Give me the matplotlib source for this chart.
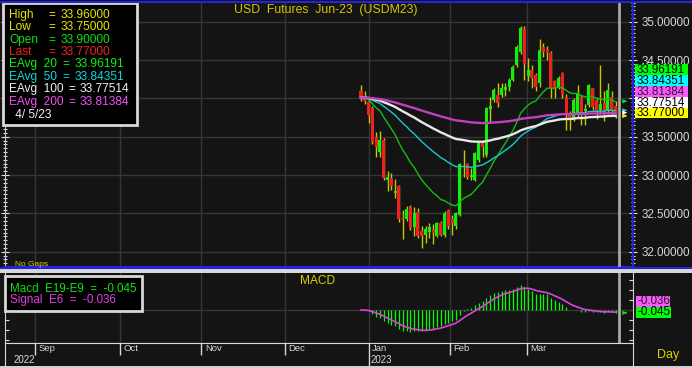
import numpy as np
import pandas as pd
import matplotlib
matplotlib.use("Agg")
import matplotlib.pyplot as plt
from matplotlib.patches import Rectangle
from matplotlib.ticker import MultipleLocator, FuncFormatter

plt.rcParams['font.family'] = ['Liberation Sans', 'DejaVu Sans']

W, H = 692, 368
BG = "#141414"
BLUE = "#2424DC"
GRID = "#363636"

# daily bars USDM23, 12/28/22 .. 4/5/23
opens = [34.09, 34.01, 33.95, 33.87, 33.49, 33.30, 33.46, 32.94, 32.96, 32.76,
         32.86, 32.44, 32.42, 32.58, 32.32, 32.52, 32.27, 32.22, 32.26, 32.30,
         32.21, 32.37, 32.22, 32.54, 32.42, 32.34, 32.48, 33.10, 33.14, 32.98,
         32.94, 33.19, 33.42, 33.26, 33.86, 33.98, 34.05, 34.04, 34.11, 34.15,
         34.24, 34.44, 34.61, 34.90, 34.29, 34.37, 34.30, 34.20, 34.67, 34.64,
         34.59, 34.22, 34.15, 34.33, 34.02, 33.78, 33.72, 33.78, 34.02, 33.83,
         33.91, 34.13, 33.98, 33.85, 33.94, 33.85, 34.02, 33.90]
highs = [34.17, 34.09, 34.00, 33.90, 33.56, 33.58, 33.48, 33.05, 33.03, 32.95,
         32.87, 32.54, 32.60, 32.61, 32.58, 32.57, 32.33, 32.33, 32.37, 32.36,
         32.39, 32.40, 32.53, 32.56, 32.48, 32.52, 33.16, 33.33, 33.16, 33.09,
         33.30, 33.44, 33.46, 33.89, 34.02, 34.14, 34.20, 34.20, 34.20, 34.27,
         34.44, 34.70, 34.95, 34.95, 34.52, 34.44, 34.33, 34.78, 34.72, 34.68,
         34.62, 34.24, 34.29, 34.35, 34.06, 33.83, 34.00, 34.18, 34.04, 33.92,
         34.19, 34.14, 34.00, 34.43, 34.10, 34.20, 34.09, 33.96]
lows = [33.97, 33.93, 33.68, 33.40, 33.23, 33.24, 32.93, 32.79, 32.81, 32.70,
        32.39, 32.16, 32.40, 32.28, 32.20, 32.18, 32.05, 32.11, 32.18, 32.10,
        32.19, 32.20, 32.19, 32.30, 32.22, 32.30, 32.47, 32.97, 32.95, 32.93,
        32.92, 33.17, 33.24, 33.24, 33.68, 33.95, 33.89, 34.02, 34.03, 34.10,
        34.22, 34.41, 34.58, 34.24, 34.22, 34.14, 34.10, 34.15, 34.54, 34.50,
        34.00, 34.00, 34.12, 34.00, 33.59, 33.59, 33.70, 33.76, 33.65, 33.65,
        33.89, 33.85, 33.73, 33.80, 33.71, 33.80, 33.78, 33.75]
closes = [34.01, 33.96, 33.78, 33.43, 33.36, 33.46, 32.96, 32.98, 32.86, 32.79,
          32.43, 32.42, 32.56, 32.31, 32.50, 32.21, 32.20, 32.29, 32.32, 32.24,
          32.37, 32.22, 32.51, 32.33, 32.38, 32.50, 33.15, 33.12, 32.97, 33.00,
          33.29, 33.42, 33.37, 33.87, 33.90, 34.11, 33.94, 34.14, 34.15, 34.24,
          34.41, 34.67, 34.92, 34.45, 34.37, 34.27, 34.15, 34.63, 34.61, 34.59,
          34.13, 34.14, 34.27, 34.04, 33.81, 33.75, 33.98, 34.07, 33.78, 33.86,
          34.17, 33.89, 33.83, 33.93, 33.83, 34.11, 33.83, 33.77]

# month boundaries on the bar axis (bar 0 = Dec 28)
month_names = ["Sep", "Oct", "Nov", "Dec", "Jan", "Feb", "Mar"]
month_pos = [-85.7, -63.4, -42.0, -20.0, 2.1, 23.4, 43.6]
year_names = ["2022", "2023"]
year_pos = [-91.4, 2.6]

ema_spans = [20, 50, 100, 200]
ema_colors = ["#10C010", "#18C8D0", "#E8E8E8", "#C040C0"]
ema_widths = [1.0, 1.0, 1.7, 1.7]
ema_last = [33.96191, 33.84351, 33.77514, 33.81384]
date_label = " 4/ 5/23"
macd_last = -0.045
signal_last = -0.036
hidden_price_labels = [34.0]  # sits behind the value boxes

opens, highs, lows, closes = map(np.array, (opens, highs, lows, closes))
x = np.arange(len(closes))
cs = pd.Series(closes)
emas = [cs.ewm(span=n, adjust=False).mean() for n in ema_spans]
macd = cs.ewm(span=9, adjust=False).mean() - cs.ewm(span=19, adjust=False).mean()
signal = macd.ewm(span=6, adjust=False).mean()

fig = plt.figure(figsize=(W / 100, H / 100), dpi=100, facecolor=BG)


def frac(x0, y0, x1, y1):
    return [x0 / W, 1 - y1 / H, (x1 - x0) / W, (y1 - y0) / H]


def price_fmt(v, pos):
    if any(abs(v - h) < 1e-6 for h in hidden_price_labels):
        return ""
    return f"{v:.5f}"


XLIM = (-93.7, 71.6)

# ---------------- price panel ----------------
ax = fig.add_axes(frac(5, 2, 633, 267))
ax.set_facecolor(BG)
ax.set_xlim(*XLIM)
ax.set_ylim(31.80, 35.257)
ax.set_axisbelow(True)
ax.set_xticks(month_pos)
ax.tick_params(axis='x', length=0, labelbottom=False)
ax.xaxis.grid(True, color=GRID, lw=1)
ax.yaxis.set_major_locator(MultipleLocator(0.5))
ax.yaxis.set_minor_locator(MultipleLocator(0.05))
ax.yaxis.set_major_formatter(FuncFormatter(price_fmt))
ax.yaxis.grid(True, which='major', color=GRID, lw=1)
ax.tick_params(axis='y', which='both', left=True, right=True, labelleft=False,
               labelright=True, direction='inout', color='#E0E0E0',
               labelcolor='#D8D8D8', labelsize=8.4, pad=3, width=0.8)
ax.tick_params(axis='y', which='major', length=6)
ax.tick_params(axis='y', which='minor', length=3)
for side in ("top", "right", "bottom"):
    ax.spines[side].set_color(BLUE)
    ax.spines[side].set_linewidth(1.5)
ax.spines["left"].set_color("#C8C8C8")

up = closes >= opens
body_lo = np.minimum(opens, closes)
body_h = np.maximum(np.abs(closes - opens), 0.015)
ax.vlines(x, lows, highs, color="#C8C800", lw=1, zorder=3)
ax.bar(x, body_h, bottom=body_lo, width=0.8, linewidth=0, zorder=4,
       color=np.where(up, "#10F010", "#F02020"))
for e, c, lw in zip(emas, ema_colors, ema_widths):
    ax.plot(x, e, color=c, lw=lw, zorder=5)
ax.axvline(67.8, color="#A8A8A8", lw=2, zorder=6)
for v, c in zip(ema_last + [closes[-1]], ["#10E010", "#20D8E0", "#F050F0", "#FFFFFF", "#E8E800"]):
    ax.annotate('', xy=(70.7, v), xytext=(68.8, v), annotation_clip=False,
                arrowprops=dict(arrowstyle='-|>', color=c, lw=0.8, mutation_scale=5))

# ---------------- MACD panel ----------------
axm = fig.add_axes(frac(5, 273, 633, 343))
axm.set_facecolor(BG)
axm.set_xlim(*XLIM)
axm.set_xticks(month_pos)
axm.tick_params(axis='x', length=0, labelbottom=False)
axm.xaxis.grid(True, color=GRID, lw=1)
axm.set_axisbelow(True)
scale = max(-macd.min() / 22, macd.max() / 25)
axm.set_ylim(-33 * scale, 37 * scale)
axm.axhline(0, color=GRID, lw=1, zorder=1)
axm.vlines(x, 0, macd, color="#00FF00", lw=0.9, zorder=3)
axm.plot(x, signal, color="#E040E0", lw=1.2, zorder=4)
axm.axvline(67.8, color="#A8A8A8", lw=2, zorder=6)
axm.annotate('', xy=(70.7, macd.iloc[-1]), xytext=(69.0, macd.iloc[-1]), annotation_clip=False,
             arrowprops=dict(arrowstyle='-|>', color="#10E010", lw=0.8, mutation_scale=5))
axm.yaxis.set_major_locator(MultipleLocator(round(10 * scale, 3)))
axm.tick_params(axis='y', which='both', left=True, right=True, labelleft=False,
                labelright=False, direction='in', color='#E0E0E0', length=3, width=0.8)
axm.spines["top"].set_visible(False)
for side in ("left", "right", "bottom"):
    axm.spines[side].set_color("#D0D0D0")

# ---------------- date strip ----------------
axd = fig.add_axes(frac(5, 343, 633, 366))
axd.set_facecolor(BG)
axd.set_xlim(*XLIM)
axd.set_ylim(0, 1)
axd.set_xticks([])
axd.set_yticks([])
axd.spines["bottom"].set_visible(False)
for side in ("left", "right", "top"):
    axd.spines[side].set_color("#D8D8D8")
for p, name in zip(month_pos, month_names):
    y0 = 0 if name == "Jan" else 0.48
    axd.vlines(p, y0, 1, color="#D8D8D8", lw=1)
    axd.text(p + 0.9, 0.74, name, fontsize=6.8, color="#D8D8D8", va='center', ha='left')
for p, name in zip(year_pos, year_names):
    axd.text(p, 0.26, name, fontsize=7, color="#D8D8D8", va='center', ha='left')

# ---------------- overlay in pixel coords ----------------
ov = fig.add_axes([0, 0, 1, 1])
ov.set_xlim(0, W)
ov.set_ylim(H, 0)
ov.axis('off')
ov.patch.set_alpha(0)
ov.set_zorder(10)

ov.plot([0, W], [1.5, 1.5], color=BLUE, lw=1.5)
ov.plot([0, W], [267.5, 267.5], color=BLUE, lw=1.5)
ov.add_patch(Rectangle((0, 268.5), W, 4, facecolor="#D8D8D8", lw=0))
ov.add_patch(Rectangle((0, 366), W, 2, facecolor="#D0D0D0", lw=0))

ov.text(326, 10, "USD  Futures  Jun-23  (USDM23)", fontsize=8.8, color="#D4C800",
        ha='center', va='center')
ov.text(15, 264, "No Gaps", fontsize=6, color="#D8D000", ha='left', va='center')

# legend box, price panel
ov.add_patch(Rectangle((3, 3), 134, 122, facecolor="#000000", edgecolor="#D8D8D8", lw=2))
rows = [
    ("High", highs[-1], "#E6E600", 48, 61, 15.0),
    ("Low", lows[-1], "#E6E600", 48, 61, 27.3),
    ("Open", opens[-1], "#10E010", 48, 61, 40.0),
    ("Last", closes[-1], "#F02020", 48, 61, 52.3),
    ("EAvg  20", ema_last[0], "#10F010", 62, 75, 64.3),
    ("EAvg  50", ema_last[1], "#10D8D8", 62, 75, 76.7),
    ("EAvg  100", ema_last[2], "#F0F0F0", 68, 80, 89.3),
    ("EAvg  200", ema_last[3], "#F050F0", 68, 80, 101.7),
]
for lab, val, col, xe, xv, yy in rows:
    ov.text(9, yy, lab, fontsize=8.6, color=col, va='center', ha='left')
    ov.text(xe, yy, "=", fontsize=8.6, color=col, va='center', ha='left')
    ov.text(xv, yy, f"{val:.5f}", fontsize=8.6, color=col, va='center', ha='left')
ov.text(12, 115, date_label, fontsize=8.6, color="#F0F0F0", va='center', ha='left')

# value boxes on the price scale
boxes = [
    (ema_last[0], "#00FF00", "#000000", 64),
    (ema_last[1], "#00FFFF", "#000000", 75),
    (ema_last[3], "#FF55FF", "#202020", 86),
    (ema_last[2], "#FFFFFF", "#000000", 97),
    (closes[-1], "#FFFF00", "#000000", 107.5),
]
for val, fc, tc, y0 in boxes:
    ov.add_patch(Rectangle((635, y0), 53, 10.8, facecolor=fc, lw=0))
    ov.text(636.5, y0 + 5.6, f"{val:.5f}", fontsize=8.4, color=tc, va='center', ha='left')

# MACD legend + labels
ov.add_patch(Rectangle((5, 276), 137, 35, facecolor="#000000", edgecolor="#D8D8D8", lw=2))
ov.text(10.5, 288.5, f"Macd  E19-E9  =  {macd_last:.3f}", fontsize=8.4, color="#10E010",
        va='center', ha='left')
ov.text(10.5, 300.5, f"Signal  E6  =  {signal_last:.3f}", fontsize=8.4, color="#E040E0",
        va='center', ha='left')
ov.text(318, 281.5, "MACD", fontsize=8.6, color="#D8D000", va='center', ha='center')
ov.add_patch(Rectangle((636, 296), 34, 10.5, facecolor="#FF55FF", lw=0))
ov.text(637, 301.5, f"{signal_last:.3f}", fontsize=8.4, color="#202020", va='center', ha='left')
ov.add_patch(Rectangle((636, 306.7), 35, 10.8, facecolor="#00FF00", lw=0))
ov.text(637, 312.3, f"{macd_last:.3f}", fontsize=8.4, color="#000000", va='center', ha='left')

ov.text(668, 355, "Day", fontsize=9, color="#D8D000", va='center', ha='center')

fig.savefig("out.png", dpi=100, facecolor=BG)
